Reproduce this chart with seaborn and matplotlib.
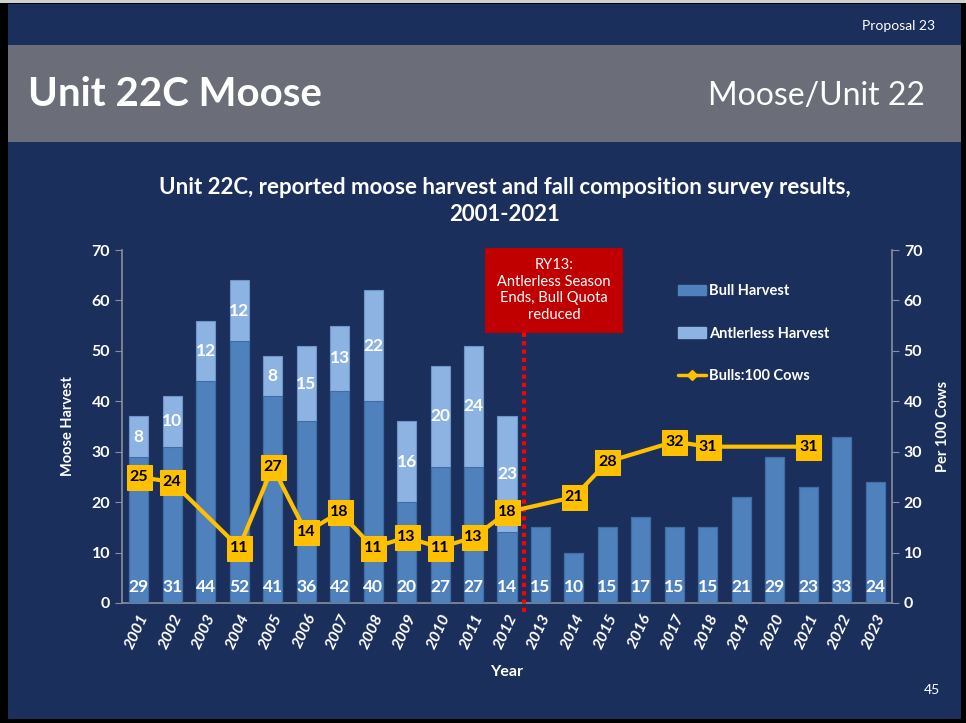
import matplotlib
matplotlib.use("Agg")
import matplotlib.pyplot as plt
from matplotlib.patches import Patch, Rectangle
from matplotlib.lines import Line2D
import numpy as np
import pandas as pd
import seaborn as sns

# donnees
years = [str(y) for y in range(2001, 2024)]
bull = [29, 31, 44, 52, 41, 36, 42, 40, 20, 27, 27, 14, 15, 10, 15, 17, 15, 15, 21, 29, 23, 33, 24]
antlerless = [8, 10, 12, 12, 8, 15, 13, 22, 16, 20, 24, 23, 0, 0, 0, 0, 0, 0, 0, 0, 0, 0, 0]
ratio_years = [2001, 2002, 2004, 2005, 2006, 2007, 2008, 2009, 2010, 2011, 2012, 2014, 2015, 2017, 2018, 2021]
ratio = [25, 24, 11, 27, 14, 18, 11, 13, 11, 13, 18, 21, 28, 32, 31, 31]

navy = "#1b2f5c"
bull_col = "#4f81bd"
antl_col = "#8db3e2"
gold = "#ffc000"
grid_col = "#8a8f99"

sns.set_style("dark")
plt.rcParams['font.family'] = ['Lato', 'DejaVu Sans']

df = pd.DataFrame({"year": years, "bull": bull, "antlerless": antlerless})
df["total"] = df["bull"] + df["antlerless"]
dr = pd.DataFrame({"x": [years.index(str(y)) for y in ratio_years], "ratio": ratio})

fig = plt.figure(figsize=(9.66, 7.23), dpi=100)
fig.patch.set_facecolor("black")
# fond de la diapo
fig.add_artist(Rectangle((8/966, 1-719/723), 953/966, 715/723, transform=fig.transFigure,
                         facecolor=navy, edgecolor="none", zorder=0))
fig.add_artist(Rectangle((0, 1-3/723), 1, 3/723, transform=fig.transFigure,
                         facecolor="#d0d0d0", edgecolor="none", zorder=0))
fig.add_artist(Rectangle((8/966, 1-142/723), 953/966, 97/723, transform=fig.transFigure,
                         facecolor="#6b6e78", edgecolor="none", zorder=0))

fig.text(935/966, 1-26/723, "Proposal 23", color="white", fontsize=10,
         ha="right", va="center")
fig.text(28/966, 1-94/723, "Unit 22C Moose", color="white", fontsize=29, fontweight="bold",
         ha="left", va="center")
fig.text(925/966, 1-96/723, "Moose/Unit 22", color="white", fontsize=23,
         ha="right", va="center")
fig.text(940/966, 1-690/723, "45", color="white", fontsize=10, ha="right", va="center")

fig.text(505/966, 1-187/723, "Unit 22C, reported moose harvest and fall composition survey results,",
         color="white", fontsize=16, fontweight="bold", ha="center", va="center")
fig.text(505/966, 1-214/723, "2001-2021", color="white", fontsize=16, fontweight="bold",
         ha="center", va="center")

ax = fig.add_axes([122/966, 1-603/723, 770/966, 353/723])
ax.set_facecolor("none")

sns.barplot(data=df, x="year", y="total", color=antl_col, width=0.57, saturation=1,
            edgecolor="#6f96c8", linewidth=0.8, ax=ax, zorder=2)
sns.barplot(data=df, x="year", y="bull", color=bull_col, width=0.57, saturation=1,
            edgecolor="#3f6ea6", linewidth=0.8, ax=ax, zorder=3)

for i, (b, a) in enumerate(zip(bull, antlerless)):
    ax.text(i, 3.2, str(b), color="white", fontsize=12.5, fontweight="bold",
            ha="center", va="center", zorder=4)
    if a > 0:
        ax.text(i, b + a / 2, str(a), color="white", fontsize=12.5, fontweight="bold",
                ha="center", va="center", zorder=4)

ax.set_xlim(-0.5, 22.5)
ax.set_ylim(0, 70)
ax.set_yticks(range(0, 71, 10))
ax.set_xlabel("Year", color="white", fontsize=11.5, fontweight="bold", labelpad=10)
ax.set_ylabel("Moose Harvest", color="white", fontsize=10.5, fontweight="bold", labelpad=12)
ax.tick_params(axis="y", colors=grid_col, labelcolor="white", labelsize=11.5, length=5, direction="out", left=True)
ax.tick_params(axis="x", length=0, labelcolor="white", labelsize=11.5, pad=6)
for lab in ax.get_xticklabels():
    lab.set_rotation(65)
    lab.set_ha("right")
    lab.set_rotation_mode("anchor")
    lab.set_fontweight("bold")
    lab.set_fontstyle("italic")
for lab in ax.get_yticklabels():
    lab.set_fontweight("bold")
ax.grid(False)
for s in ["top", "right"]:
    ax.spines[s].set_visible(False)
for s in ["left", "bottom"]:
    ax.spines[s].set_color(grid_col)
    ax.spines[s].set_linewidth(1.2)

# ligne rouge RY13
ax.plot([11.5, 11.5], [-1.8, 53.5], color="#ff0000", lw=3, ls=(0, (1, 1)),
        clip_on=False, zorder=5)

ax2 = ax.twinx()
sns.lineplot(data=dr, x="x", y="ratio", color=gold, lw=3, ax=ax2, zorder=6,
             marker="s", markersize=18, markeredgecolor=gold)
for x, r in zip(dr["x"], dr["ratio"]):
    ax2.text(x, r, str(r), color="black", fontsize=11.5, fontweight="bold",
             ha="center", va="center", zorder=7)
ax2.set_ylim(0, 70)
ax2.set_xlim(-0.5, 22.5)
ax2.set_yticks(range(0, 71, 10))
ax2.set_ylabel("Per 100 Cows", color="white", fontsize=10.5, fontweight="bold", labelpad=10)
ax2.set_xlabel("")
ax2.tick_params(axis="y", colors=grid_col, labelcolor="white", labelsize=11.5, length=5, direction="out", right=True)
for lab in ax2.get_yticklabels():
    lab.set_fontweight("bold")
ax2.grid(False)
for s in ["top", "left", "bottom"]:
    ax2.spines[s].set_visible(False)
ax2.spines["right"].set_color(grid_col)
ax2.spines["right"].set_linewidth(1.2)

# boite rouge
fig.add_artist(Rectangle((485/966, 1-333/723), 138/966, 85/723, transform=fig.transFigure,
                         facecolor="#c00000", edgecolor="none", zorder=8))
fig.text(554/966, 1-290/723, "RY13:\nAntlerless Season\nEnds, Bull Quota\nreduced",
         color="white", fontsize=10.5, ha="center", va="center", linespacing=1.25, zorder=9)

handles = [Patch(facecolor=bull_col, edgecolor=bull_col),
           Patch(facecolor=antl_col, edgecolor=antl_col),
           Line2D([0], [0], color=gold, lw=2.5, marker="D", markersize=5)]
leg = fig.legend(handles, ["Bull Harvest", "Antlerless Harvest", "Bulls:100 Cows"],
                 loc="upper left", bbox_to_anchor=(665/966, 1-271/723), frameon=False,
                 labelspacing=1.95, handlelength=1.9, handletextpad=0.2,
                 prop={"weight": "bold", "size": 10.5})
for t in leg.get_texts():
    t.set_color("white")

fig.savefig("out.png", dpi=100, facecolor=fig.get_facecolor())
